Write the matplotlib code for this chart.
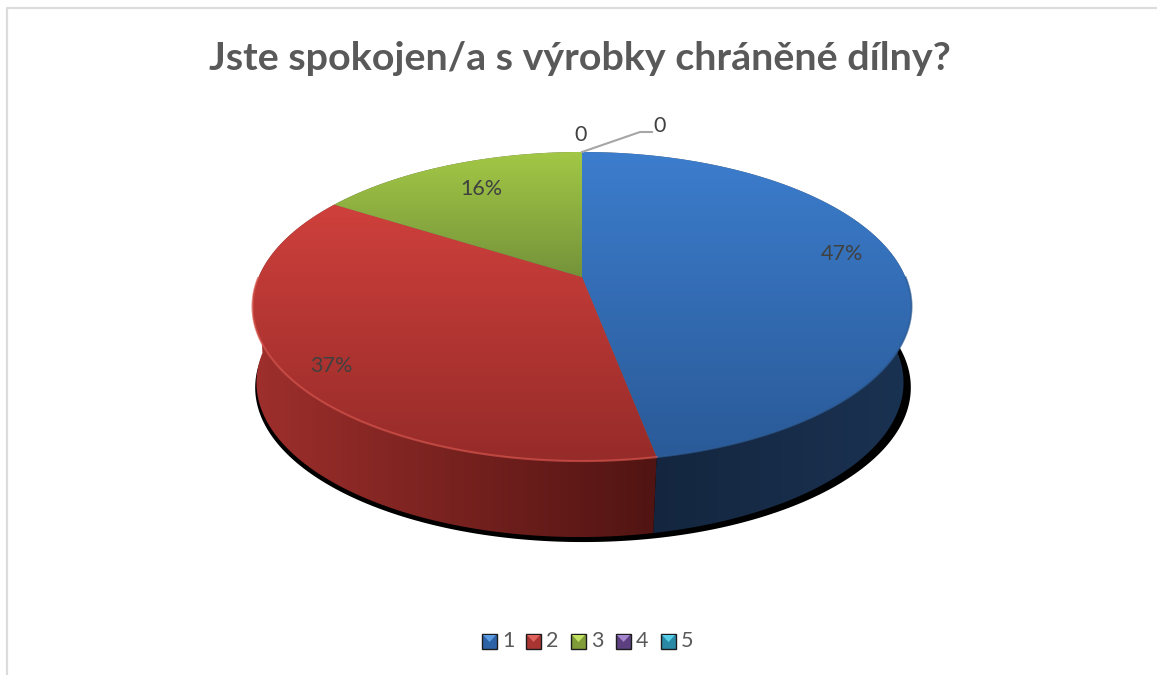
import numpy as np
from matplotlib import pyplot as plt
from matplotlib.colors import LinearSegmentedColormap
from matplotlib.patches import Polygon, Rectangle

categories = ['1', '2', '3', '4', '5']
values = [47, 37, 16, 0, 0]
value_labels = ['47%', '37%', '16%', '0', '0']
title = 'Jste spokojen/a s výrobky chráněné dílny?'

# top colour, bottom colour of the lid, left and right colour of the wall
lid_colors = [('#3c7dcd', '#2a5a98'), ('#cf403c', '#962b29'), ('#a3c846', '#74933a')]
wall_colors = [('#14263f', '#1a3252'), ('#9e2f2c', '#501412'), ('#4f6522', '#6d8a2f')]
rim_colors = ['#2c5d9a', '#d9534c', '#a8cc50']
key_colors = [('#2d63a6', '#5a9ae0'), ('#a83532', '#e0625c'), ('#7f9c38', '#c0e060'),
              ('#5c4080', '#a585d0'), ('#2a8aa6', '#55cde8')]

W, H = 1157, 675
cx, cy = 582, 277      # apex of the pie
a, b, k = 323.4, 148.9, 0.191     # perspective of the disc
depth = 76
label_pos = [(842, 254), (331, 366), (481, 189), (581, 135), (660, 126)]
key_x = [482, 526, 571, 616, 661]


def project(frac, shrink=1.0, dy=0, dx=0):
    # fraction of the circle, clockwise from the top, to pixel position
    t = 2 * np.pi * np.asarray(frac)
    u, v = np.sin(t), -np.cos(t)
    d = 1 - k * v
    return cx + dx + shrink * a * u / d, cy + dy + b * v / d


def gradient(ax, poly, c0, c1, horizontal=False, z=3):
    xy = poly.get_xy()
    cmap = LinearSegmentedColormap.from_list('g', [c0, c1])
    g = np.linspace(0, 1, 256).reshape(1, -1) if horizontal else np.linspace(0, 1, 256).reshape(-1, 1)
    im = ax.imshow(g, cmap=cmap, aspect='auto', interpolation='bilinear', vmin=0, vmax=1, zorder=z,
                   extent=(xy[:, 0].min(), xy[:, 0].max(), xy[:, 1].max(), xy[:, 1].min()))
    poly.set_facecolor('none')
    poly.set_edgecolor('none')
    ax.add_patch(poly)
    im.set_clip_path(poly)


fig = plt.figure(figsize=(W / 100, H / 100), dpi=100)
ax = fig.add_axes([0, 0, 1, 1])
plt.rcParams['font.family'] = ['Lato', 'DejaVu Sans']

# chart frame
ax.plot([7, 7, W - 1], [H, 8, 8], color='#dcdcdc', lw=1.6, zorder=1)

cum = np.concatenate(([0], np.cumsum(values))) / np.sum(values)
fr = np.linspace(0, 1, 720)

# black shadow under the wall
x0, y0 = project(fr, 0.995, depth + 5, 1)
ax.add_patch(Polygon(np.c_[x0, y0], fc='black', ec='none', zorder=2))

# wall, only the front half of the rim can be seen
for i in range(3):
    lo, hi = max(cum[i], 0.25), min(cum[i + 1], 0.75)
    if hi <= lo:
        continue
    f = np.linspace(lo, hi, 200)
    xt, yt = project(f)
    xb, yb = project(f, 0.982, depth, -2)
    poly = Polygon(np.r_[np.c_[xt, yt], np.c_[xb, yb][::-1]], closed=True)
    gradient(ax, poly, wall_colors[i][0], wall_colors[i][1], True, z=3)

# plate under the lid so the black does not shine through the seams
xt, yt = project(fr)
ax.add_patch(Polygon(np.c_[xt, yt], fc='#6f6a60', ec='none', zorder=3.5))

# lid
for i in range(3):
    f = np.linspace(cum[i], cum[i + 1], 200)
    xt, yt = project(f)
    poly = Polygon(np.r_[[[cx, cy]], np.c_[xt, yt]], closed=True)
    gradient(ax, poly, lid_colors[i][0], lid_colors[i][1], z=4)
    front = (f > 0.25) & (f < 0.75)
    ax.plot(xt[front], yt[front], color=rim_colors[i], lw=1.5, alpha=0.7, zorder=5)

# leader line of the zero labels
ax.plot([582, 640, 652], [152, 132, 132], color='#a6a6a6', lw=1.5, zorder=6)

for lab, (lx, ly) in zip(value_labels, label_pos):
    ax.text(lx, ly, lab, fontsize=15.5, color='#404040', ha='center', va='center', zorder=7)

ax.text(580, 59, title, fontsize=28.4, fontweight='bold', color='#595959', ha='center', va='center', zorder=7)

# legend keys with the bevelled look
for name, kx, (dark, light) in zip(categories, key_x, key_colors):
    ax.add_patch(Rectangle((kx, 634), 15, 15, fc=dark, ec='#1c1c1c', lw=1, zorder=7))
    ax.add_patch(Polygon([[kx + 1, 635], [kx + 14, 635], [kx + 7.5, 642]], fc=light, ec='none', zorder=8))
    ax.text(kx + 20, 641, name, fontsize=15.5, color='#595959', ha='left', va='center', zorder=7)

ax.set_xlim(0, W)
ax.set_ylim(H, 0)
ax.axis('off')

fig.savefig('out.png', dpi=100)
